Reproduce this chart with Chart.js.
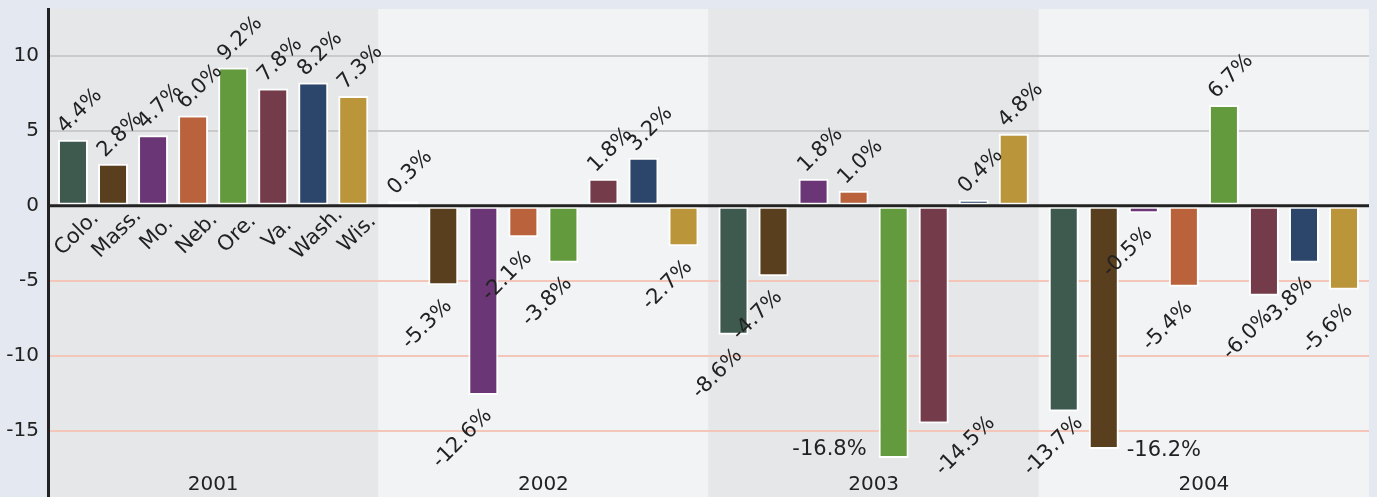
<!DOCTYPE html>
<html>
<head>
<meta charset="utf-8">
<script src="https://cdn.jsdelivr.net/npm/chart.js@4"></script>
<style>
    html, body { margin: 0; padding: 0; background: #e3e8f1; }
</style>
</head>
<body>
<canvas id="grafico" width="1377" height="497"></canvas>
<script>
const years = ["2001", "2002", "2003", "2004"];
const states = ["Colo.", "Mass.", "Mo.", "Neb.", "Ore.", "Va.", "Wash.", "Wis."];
const v2001 = [4.4, 2.8, 4.7, 6.0, 9.2, 7.8, 8.2, 7.3];
const v2002 = [0.3, -5.3, -12.6, -2.1, -3.8, 1.8, 3.2, -2.7];
const v2003 = [-8.6, -4.7, 1.8, 1.0, -16.8, -14.5, 0.4, 4.8];
const v2004 = [-13.7, -16.2, -0.5, -5.4, 6.7, -6.0, -3.8, -5.6];
const yTicks = [10, 5, 0, -5, -10, -15];

const colores = ["#3e5a4f", "#5a3f1e", "#6b3675", "#b9623b", "#639a3d", "#743c4a", "#2b466a", "#bb9539"];
const valores = [v2001, v2002, v2003, v2004];
const fuente = "21px 'DejaVu Sans'";

function rotado(ctx, txt, x, y, align, base) {
    ctx.save();
    ctx.translate(x, y);
    ctx.rotate(-Math.PI / 4);
    ctx.textAlign = align;
    ctx.textBaseline = base;
    ctx.fillText(txt, 0, 0);
    ctx.restore();
}

// fondo de página y franjas por año
const fondos = {
    id: "fondos",
    beforeDraw(chart) {
        const { ctx, chartArea: a, scales: { x } } = chart;
        ctx.save();
        ctx.fillStyle = "#e3e8f1";
        ctx.fillRect(0, 0, chart.width, chart.height);
        const ancho = (a.right - a.left) / years.length;
        years.forEach((y, i) => {
            ctx.fillStyle = i % 2 ? "#f2f3f5" : "#e6e7e9";
            const cx = x.getPixelForValue(i);
            ctx.fillRect(cx - ancho / 2, a.top, ancho, a.bottom - a.top);
        });
        ctx.restore();
    }
};

// línea del cero, etiquetas de valor, estados y años
const etiquetas = {
    id: "etiquetas",
    afterDatasetsDraw(chart) {
        const { ctx, chartArea: a, scales: { x, y } } = chart;
        const y0 = y.getPixelForValue(0);
        ctx.save();
        ctx.strokeStyle = "#222";
        ctx.lineWidth = 3;
        ctx.beginPath();
        ctx.moveTo(a.left, y0);
        ctx.lineTo(a.right, y0);
        ctx.stroke();

        ctx.fillStyle = "#222";
        ctx.font = fuente;
        const limite = a.bottom - 25;
        chart.data.datasets.forEach((ds, i) => {
            const meta = chart.getDatasetMeta(i);
            meta.data.forEach((bar, j) => {
                const v = ds.data[j];
                const txt = v.toFixed(1) + "%";
                const w = ctx.measureText(txt).width;
                if (v >= 0) {
                    rotado(ctx, txt, bar.x - 8, bar.y - 6, "left", "alphabetic");
                } else if (v < -16) {
                    const izq = i > 0 ? chart.data.datasets[i - 1].data[j] : 0;
                    const der = i < states.length - 1 ? chart.data.datasets[i + 1].data[j] : 0;
                    ctx.textBaseline = "middle";
                    if (izq > der) {
                        ctx.textAlign = "right";
                        ctx.fillText(txt, bar.x - bar.width / 2 - 12, bar.y - 8);
                    } else {
                        ctx.textAlign = "left";
                        ctx.fillText(txt, bar.x + bar.width / 2 + 8, bar.y + 2);
                    }
                } else {
                    let ax = bar.x - 2, ay = bar.y + 10;
                    const fondo = ay + (w + 10) / Math.SQRT2;
                    if (fondo > limite) {
                        const d = fondo - limite;
                        ax += 3.5 * Math.max(0, d - 6);
                        ay -= d;
                    }
                    rotado(ctx, txt, ax, ay, "right", "top");
                }
            });
            // nombres de estado bajo 2001
            const b = meta.data[0];
            rotado(ctx, states[i], b.x + 4, y0 + 28, "center", "middle");
        });

        ctx.textAlign = "center";
        ctx.textBaseline = "middle";
        ctx.font = "20px 'DejaVu Sans'";
        years.forEach((yr, i) => {
            ctx.fillText(yr, x.getPixelForValue(i), a.bottom - 12);
        });
        ctx.restore();
    }
};

new Chart(document.getElementById("grafico"), {
    type: "bar",
    data: {
        labels: years,
        datasets: states.map((s, i) => ({
            label: s,
            data: valores.map(v => v[i]),
            backgroundColor: colores[i],
            borderColor: "#ffffff",
            borderWidth: 2,
            borderSkipped: false,
            categoryPercentage: 0.97,
            barPercentage: 0.75
        }))
    },
    options: {
        responsive: false,
        animation: false,
        devicePixelRatio: 1,
        layout: { padding: { top: 9, right: 8, bottom: 0, left: 0 } },
        plugins: { legend: { display: false }, tooltip: { enabled: false } },
        scales: {
            x: { display: false },
            y: {
                min: -19.4,
                max: 13.1,
                afterFit: s => { s.width = 48; s.paddingTop = 0; s.paddingBottom = 0; },
                afterBuildTicks: s => { s.ticks = yTicks.map(v => ({ value: v })); },
                ticks: { color: "#222", font: { family: "DejaVu Sans", size: 20 }, padding: 9 },
                grid: {
                    drawTicks: false,
                    lineWidth: 2,
                    color: c => c.tick && c.tick.value > 0 ? "#cacaca" : (c.tick && c.tick.value < 0 ? "#f4c5b9" : "rgba(0,0,0,0)")
                },
                border: { color: "#222", width: 3 }
            }
        }
    },
    plugins: [fondos, etiquetas]
});
</script>
</body>
</html>
